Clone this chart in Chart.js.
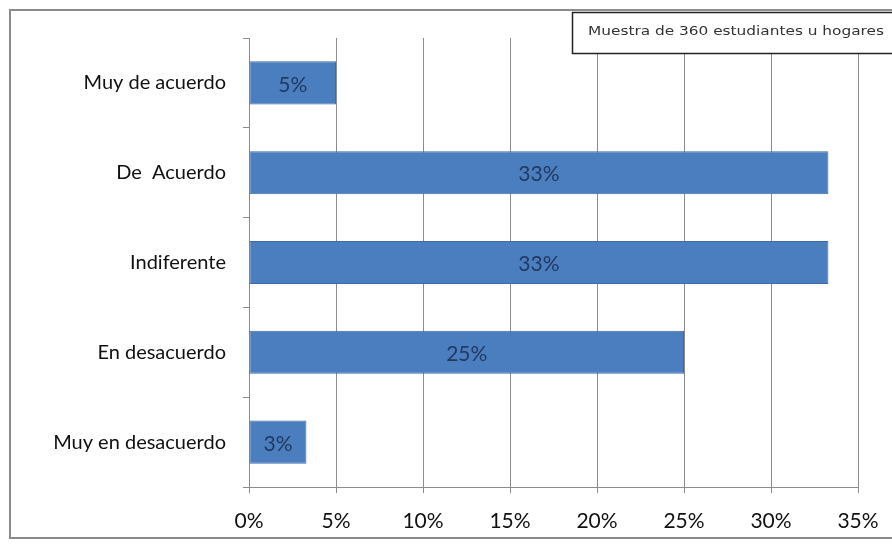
<!DOCTYPE html>
<html>
<head>
<meta charset="utf-8">
<script src="https://cdn.jsdelivr.net/npm/chart.js@4.4.0/dist/chart.umd.min.js"></script>
<style>
  html, body { margin: 0; padding: 0; background: #fff; }
  #wrap { width: 892px; height: 544px; position: relative; }
</style>
</head>
<body>
<div id="wrap"><canvas id="chart"></canvas></div>
<script>
// survey answers, top to bottom
const categories = ['Muy de acuerdo', 'De  Acuerdo', 'Indiferente', 'En desacuerdo', 'Muy en desacuerdo'];
const shares = [5, 33.3, 33.3, 25, 3.3];
const xTicks = [0, 5, 10, 15, 20, 25, 30, 35];
const noteText = 'Muestra de 360 estudiantes u hogares';

const labelFont = 'Lato, "Open Sans", sans-serif';

// frame around the whole chart + the sample-size note box
const framePlugin = {
    id: 'frame',
    beforeDraw(chart) {
        const ctx = chart.ctx;
        ctx.save();
        ctx.fillStyle = '#fff';
        ctx.fillRect(0, 0, chart.width, chart.height);
        ctx.strokeStyle = '#8c8c8c';
        ctx.lineWidth = 2;
        ctx.strokeRect(10, 10, chart.width, 528);
        ctx.restore();
    },
    afterDraw(chart) {
        const ctx = chart.ctx;
        ctx.save();
        ctx.fillStyle = '#fff';
        ctx.fillRect(572, 12, 330, 41);
        ctx.strokeStyle = '#222';
        ctx.lineWidth = 1.5;
        ctx.strokeRect(572.5, 12.5, 330, 41);
        ctx.font = '13px "DejaVu Sans", sans-serif';
        ctx.fillStyle = '#333';
        ctx.textBaseline = 'middle';
        const w = ctx.measureText(noteText).width;
        ctx.translate(588, 32);
        ctx.scale(296 / w, 1);
        ctx.fillText(noteText, 0, 0);
        ctx.restore();
    }
};

// percentage printed in the middle of each bar
const barLabels = {
    id: 'barLabels',
    afterDatasetsDraw(chart) {
        const ctx = chart.ctx;
        const meta = chart.getDatasetMeta(0);
        ctx.save();
        ctx.font = '21px ' + labelFont;
        ctx.fillStyle = '#223a62';
        ctx.textAlign = 'center';
        ctx.textBaseline = 'middle';
        meta.data.forEach((bar, i) => {
            const x = (bar.base + bar.x) / 2;
            ctx.fillText(Math.round(shares[i]) + '%', x, bar.y + 2);
        });
        ctx.restore();
    }
};

const ctx = document.getElementById('chart').getContext('2d');
new Chart(ctx, {
    type: 'bar',
    data: {
        labels: categories,
        datasets: [{
            data: shares,
            backgroundColor: '#4a7ebf',
            borderColor: '#3d6ca8',
            borderWidth: 1,
            borderSkipped: false,
            barPercentage: 0.48,
            categoryPercentage: 1
        }]
    },
    options: {
        indexAxis: 'y',
        responsive: true,
        maintainAspectRatio: false,
        animation: false,
        layout: { padding: { left: 10, right: 34, top: 38, bottom: 0 } },
        plugins: {
            legend: { display: false },
            tooltip: { enabled: false }
        },
        scales: {
            x: {
                min: 0,
                max: 35,
                afterBuildTicks(scale) {
                    scale.ticks = xTicks.map(v => ({ value: v }));
                },
                afterFit(scale) {
                    scale.height = 57;
                    scale.paddingLeft = 0;
                    scale.paddingRight = 0;
                },
                ticks: {
                    callback: v => v + '%',
                    color: '#111',
                    font: { family: labelFont, size: 21 },
                    padding: 16,
                    maxRotation: 0
                },
                grid: {
                    color: '#8c8c8c',
                    lineWidth: 1,
                    tickLength: 6,
                    drawTicks: true
                },
                border: { color: '#8c8c8c', width: 1 }
            },
            y: {
                afterFit(scale) { scale.width = 239; },
                ticks: {
                    color: '#111',
                    font: { family: labelFont, size: 20 },
                    padding: 17
                },
                grid: {
                    offset: true,
                    drawOnChartArea: false,
                    color: '#8c8c8c',
                    tickLength: 6
                },
                border: { color: '#8c8c8c', width: 1 }
            }
        }
    },
    plugins: [framePlugin, barLabels]
});
</script>
</body>
</html>
